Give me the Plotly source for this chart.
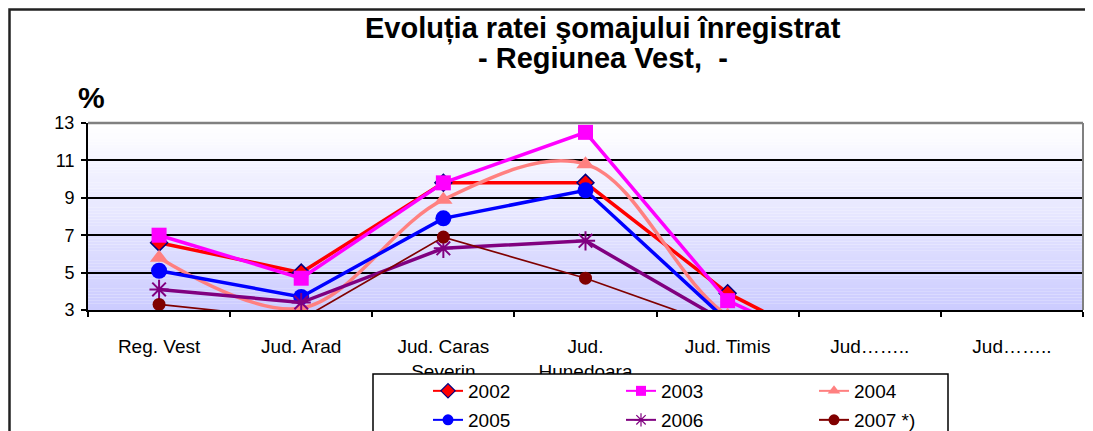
import plotly.graph_objects as go

# categories (x) and unemployment rate series (%)
categories = ["Reg. Vest", "Jud. Arad", "Jud. Caras<br>Severin", "Jud.<br>Hunedoara",
              "Jud. Timis", "Jud……..", "Jud…….."]
rate_2002 = [6.6, 5.0, 9.8, 9.8, 3.9, 0, 0]
rate_2003 = [7.0, 4.7, 9.8, 12.5, 3.5, 0, 0]
rate_2004 = [5.8, 3.1, 8.9, 10.8, 2.7, 0, 0]
rate_2005 = [5.1, 3.7, 7.9, 9.4, 2.4, 0, 0]
rate_2006 = [4.1, 3.4, 6.3, 6.7, 2.3, 0, 0]
rate_2007 = [3.3, 2.5, 6.9, 4.7, 2.0, 0, 0]
y_ticks = [3, 5, 7, 9, 11, 13]

W, H = 1093, 431
OFF = 8  # page body margin shifts the figure by 8px
L, R, T, B = 88 - OFF, 1083 - OFF, 123 - OFF, 310 - OFF  # plot area in figure pixels
FONT = "Liberation Sans, Arial, sans-serif"

x = list(range(len(categories)))


# page pixel (as in the reference picture) -> paper coordinate
def px_x(p):
    return (p - OFF - L) / (R - L)


def px_y(p):
    return (B - (p - OFF)) / (B - T)


series = [
    ("2002", rate_2002, "legend", dict(color="#FF0000", width=3.5),
     dict(symbol="diamond", size=13, color="#FF0000", line=dict(color="#000080", width=1.5))),
    ("2003", rate_2003, "legend", dict(color="#FF00FF", width=3.5),
     dict(symbol="square", size=15, color="#FF00FF")),
    ("2004", rate_2004, "legend", dict(color="#FF8080", width=3.5, shape="spline", smoothing=1),
     dict(symbol="triangle-up", size=16, color="#FF8080")),
    ("2005", rate_2005, "legend2", dict(color="#0000FF", width=3.5),
     dict(symbol="circle", size=16, color="#0000FF")),
    ("2006", rate_2006, "legend2", dict(color="#800080", width=3.5),
     dict(symbol="asterisk-open", size=16, color="#800080", line=dict(color="#800080", width=2))),
    ("2007 *)", rate_2007, "legend2", dict(color="#800000", width=1.7),
     dict(symbol="circle", size=13, color="#800000")),
]

fig = go.Figure()

#series
for name, vals, leg, line, marker in series:
    fig.add_trace(go.Scatter(x=x, y=vals, name=name, mode="lines+markers",
                             line=line, marker=marker, showlegend=False))

# legend entries with thinner lines and smaller symbols, like the original
for name, vals, leg, line, marker in series:
    lg_marker = dict(marker)
    lg_marker["size"] = 11 if marker["symbol"] != "square" else 10
    if "line" in lg_marker:
        lg_marker["line"] = dict(lg_marker["line"], width=1.2)
    fig.add_trace(go.Scatter(x=[None], y=[None], name=name, mode="lines+markers",
                             line=dict(color=line["color"], width=2),
                             marker=lg_marker, legend=leg, showlegend=True))

# gradient background of the plot area
shapes = []
n_bands = 60
for i in range(n_bands):
    f = i / (n_bands - 1)
    c = int(round(255 - (255 - 204) * f))
    shapes.append(dict(type="rect", xref="paper", yref="paper", layer="below",
                       x0=0, x1=1, y0=1 - (i + 1) / n_bands, y1=1 - i / n_bands,
                       line=dict(width=0), fillcolor=f"rgb({c},{c},255)"))

# gray top and right border of plot area
shapes.append(dict(type="line", xref="paper", yref="paper", x0=0, x1=1, y0=1, y1=1,
                   line=dict(color="#808080", width=2.5), layer="above"))
shapes.append(dict(type="line", xref="paper", yref="paper", x0=1, x1=1, y0=0, y1=1,
                   line=dict(color="#808080", width=2), layer="above"))
# legend box
shapes.append(dict(type="rect", xref="paper", yref="paper", layer="above",
                   x0=px_x(373), x1=px_x(948), y0=px_y(450), y1=px_y(374),
                   line=dict(color="black", width=1.5), fillcolor="white"))
# outer chart frame
shapes.append(dict(type="rect", xref="paper", yref="paper", layer="above",
                   x0=px_x(9.5), x1=px_x(1110), y0=px_y(450), y1=px_y(9.5),
                   line=dict(color="#222222", width=2.5)))

legend_common = dict(orientation="h", xanchor="left", yanchor="middle",
                     bgcolor="rgba(0,0,0,0)", borderwidth=0,
                     font=dict(family=FONT, size=19, color="black"),
                     itemsizing="trace", entrywidth=148, tracegroupgap=0)

fig.update_layout(
    width=W, height=H,
    margin=dict(l=L, r=W - R, t=T, b=H - B, autoexpand=False),
    paper_bgcolor="white",
    plot_bgcolor="rgba(0,0,0,0)",
    showlegend=True,
    legend=dict(x=px_x(428), y=px_y(391), **legend_common),
    legend2=dict(x=px_x(428), y=px_y(420), **legend_common),
    shapes=shapes,
    annotations=[
        dict(text="<b>Evoluția ratei şomajului înregistrat</b>", xref="paper", yref="paper",
             x=px_x(603), y=px_y(28), xanchor="center", yanchor="middle", showarrow=False,
             font=dict(family=FONT, size=29, color="black")),
        dict(text="<b>- Regiunea Vest,  -</b>", xref="paper", yref="paper",
             x=px_x(603), y=px_y(58), xanchor="center", yanchor="middle", showarrow=False,
             font=dict(family=FONT, size=29, color="black")),
        dict(text="<b>%</b>", xref="paper", yref="paper",
             x=px_x(91), y=px_y(97), xanchor="center", yanchor="middle", showarrow=False,
             font=dict(family=FONT, size=30, color="black")),
    ],
)

fig.update_xaxes(range=[-0.5, len(categories) - 0.5], tickmode="array",
                 tickvals=x, ticktext=categories, ticks="",
                 showline=True, linecolor="black", linewidth=2,
                 showgrid=False, zeroline=False, ticklabelstandoff=18,
                 tickfont=dict(family=FONT, size=19, color="black"),
                 minor=dict(tickmode="array",
                            tickvals=[i - 0.5 for i in range(len(categories) + 1)],
                            ticks="outside", ticklen=5, tickcolor="black",
                            tickwidth=2, showgrid=False))
fig.update_yaxes(range=[3, 13], tickmode="array", tickvals=y_ticks,
                 ticks="outside", ticklen=5, tickcolor="black", tickwidth=2,
                 showline=True, linecolor="black", linewidth=2,
                 showgrid=True, gridcolor="black", gridwidth=2, zeroline=False,
                 ticklabelstandoff=3,
                 tickfont=dict(family=FONT, size=18, color="black"))

fig.write_html("out.html")
